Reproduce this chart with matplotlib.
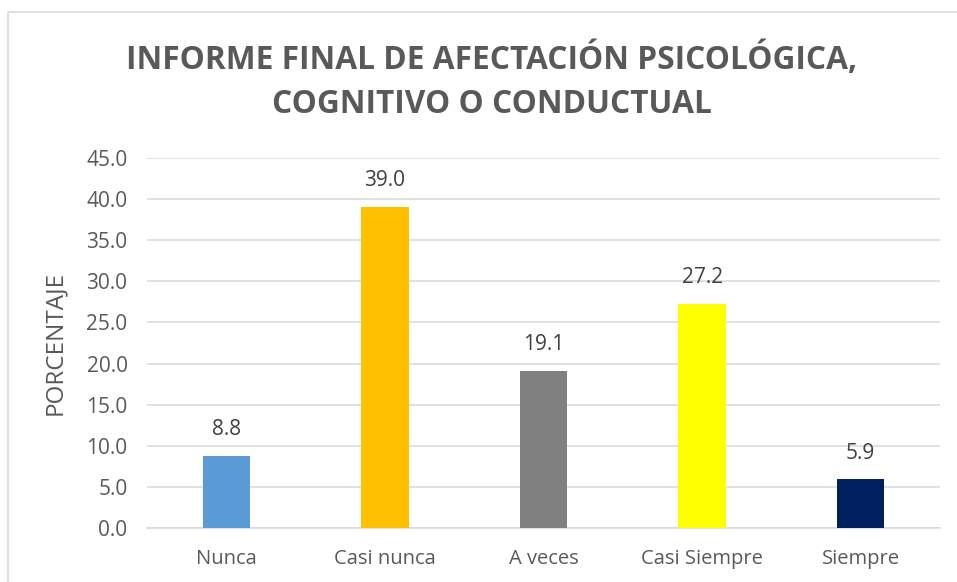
import matplotlib
matplotlib.use("Agg")
import matplotlib.pyplot as plt
from matplotlib.lines import Line2D

categories = ["Nunca", "Casi nunca", "A veces", "Casi Siempre", "Siempre"]
values = [8.8, 39.0, 19.1, 27.2, 5.9]
bar_colors = ["#5B9BD5", "#FFC000", "#808080", "#FFFF00", "#002060"]
yticks = [0, 5, 10, 15, 20, 25, 30, 35, 40, 45]
title = "INFORME FINAL DE AFECTACIÓN PSICOLÓGICA,\nCOGNITIVO O CONDUCTUAL"
ylabel = "PORCENTAJE"

plt.rcParams['font.family'] = ['Open Sans', 'DejaVu Sans']
W, H = 957, 582
fig = plt.figure(figsize=(W / 100, H / 100), dpi=100)
fig.patch.set_facecolor("white")

ax = fig.add_axes([147 / W, 1 - 528 / H, (940 - 147) / W, (528 - 158) / H])
x = list(range(len(categories)))
ax.bar(x, values, width=0.30, color=bar_colors, zorder=3)
ax.set_xlim(-0.5, len(categories) - 0.5)
ax.set_ylim(0, 45)
ax.set_yticks(yticks)
ax.set_yticklabels([f"{v:.1f}" for v in yticks])
ax.set_xticks(x)
ax.set_xticklabels(categories)
ax.tick_params(axis='both', length=0, colors="#595959")
ax.tick_params(axis='y', labelsize=15, pad=14)
ax.tick_params(axis='x', labelsize=14.5, pad=15)
ax.grid(axis='y', color="#D9D9D9", linewidth=1.1, zorder=0)
for s in ["top", "right", "left"]:
    ax.spines[s].set_visible(False)
ax.spines["bottom"].set_color("#D9D9D9")
ax.spines["bottom"].set_linewidth(1.1)

for xi, v in zip(x, values):
    ax.annotate(f"{v:.1f}", (xi, v), xytext=(0, 19), textcoords="offset points",
                ha="center", va="center", fontsize=15, color="#404040")

ax.set_ylabel(ylabel, fontsize=17.5, color="#595959")
ax.yaxis.set_label_coords(-0.101, 0.5)

fig.text(492 / W, 1 - 82 / H, title, ha="center", va="center", fontsize=22.8,
         fontweight="bold", color="#595959", linespacing=1.45)

# chart border (cropped)
fig.add_artist(Line2D([8 / W, 8 / W, 1.0], [0, 1 - 12 / H, 1 - 12 / H],
                      transform=fig.transFigure, color="#D9D9D9", linewidth=1.2))

fig.savefig("out.png", dpi=100, facecolor="white")
